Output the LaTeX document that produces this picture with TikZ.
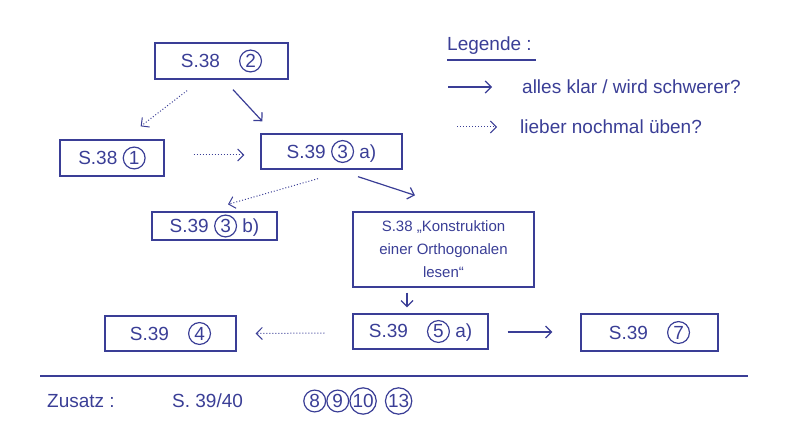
\documentclass[tikz,border=0pt]{standalone}
\usepackage{fontspec}
\setmainfont{Liberation Sans}
\usetikzlibrary{arrows.meta,calc}
\definecolor{ink}{RGB}{58,62,150}
\newcommand{\circnum}[1]{\tikz[baseline=(n.base)]\node[circle,draw=ink,line width=1.2pt,inner sep=0.5pt,minimum size=1.15em,text=ink](n){#1};}
\tikzset{
  box/.style={draw=ink, line width=1.3pt, text=ink, font=\fontsize{19}{22}\selectfont, inner sep=0pt},
  solidarr/.style={draw=ink, line width=1.2pt, -{Straight Barb[length=6pt,width=12pt]}},
  dotarr/.style={draw=ink, line width=1pt, dotted, -{Straight Barb[length=6pt,width=12pt]}},
  lbl/.style={text=ink, font=\fontsize{19}{22}\selectfont, inner sep=0pt, anchor=west}
}
\begin{document}
\begin{tikzpicture}[x=1pt,y=-1pt]
\useasboundingbox (0,0) rectangle (800,443);
\node[box, minimum width=133pt, minimum height=36pt] (a) at (221.5,61) {S.38\quad\circnum{2}};
\node[box, minimum width=104pt, minimum height=36pt] (b) at (112,158) {S.38 \circnum{1}};
\node[box, minimum width=141pt, minimum height=35pt] (c) at (331.5,151.5) {S.39 \circnum{3} a)};
\node[box, minimum width=125pt, minimum height=28pt] (d) at (214.5,226) {S.39 \circnum{3} b)};
\node[box, minimum width=181pt, minimum height=75pt, align=center, font=\fontsize{15}{23}\selectfont] (e) at (443.5,249.5) {S.38 „Konstruktion\\ einer Orthogonalen\\ lesen“};
\node[box, minimum width=131pt, minimum height=35pt] (f) at (170.5,333.5) {S.39\quad\circnum{4}};
\node[box, minimum width=135pt, minimum height=35pt] (g) at (420.5,331.5) {S.39\quad\circnum{5} a)};
\node[box, minimum width=137pt, minimum height=37pt] (h) at (649.5,332.5) {S.39\quad\circnum{7}};

\draw[dotarr] ($(a.south)+(-34.5,11)$) -- ($(b.north east)+(-24,-13)$);
\draw[solidarr] ($(a.south)+(11.5,10)$) -- ($(c.north west)+(2,-12)$);
\draw[dotarr] ($(b.east)+(29,-3)$) -- ($(c.west)+(-16,3.5)$);
\draw[dotarr] ($(c.south)+(-13.5,9)$) -- ($(d.north)+(13.5,-7)$);
\draw[solidarr] ($(c.south)+(26.5,7)$) -- ($(e.north)+(-28.5,-16)$);
\draw[solidarr] ($(e.south)+(-36.5,5)$) -- ($(g.north)+(-13.5,-6)$);
\draw[dotarr] ($(g.west)+(-28,1.5)$) -- ($(f.east)+(19,0)$);
\draw[solidarr] ($(g.east)+(19,0.5)$) -- ($(h.west)+(-28,-0.5)$);

% legend
\node[lbl] (leg) at (447,46) {Legende :};
\draw[ink, line width=1.2pt] ($(leg.south west)+(0,5)$) -- ($(leg.south east)+(4,5)$);
\coordinate (l1a) at (448,87); \coordinate (l1b) at (492,87);
\draw[solidarr] (l1a) -- (l1b);
\node[lbl] (l1t) at (522,87) {alles klar / wird schwerer?};
\coordinate (l2a) at (457,127); \coordinate (l2b) at (497,127);
\draw[dotarr] (l2a) -- (l2b);
\node[lbl] (l2t) at (520,127) {lieber nochmal üben?};

% separator
\coordinate (s1) at (40,376); \coordinate (s2) at (748,376);
\draw[ink, line width=1.2pt] (s1) -- (s2);
\node[lbl] (zus) at (47,401) {Zusatz :};
\node[lbl] (zs) at (172,401) {S. 39/40};
\node[lbl] (zc) at (303,401) {\circnum{8}\circnum{9}\circnum{10}\hspace{8pt}\circnum{13}};
\end{tikzpicture}
\end{document}
